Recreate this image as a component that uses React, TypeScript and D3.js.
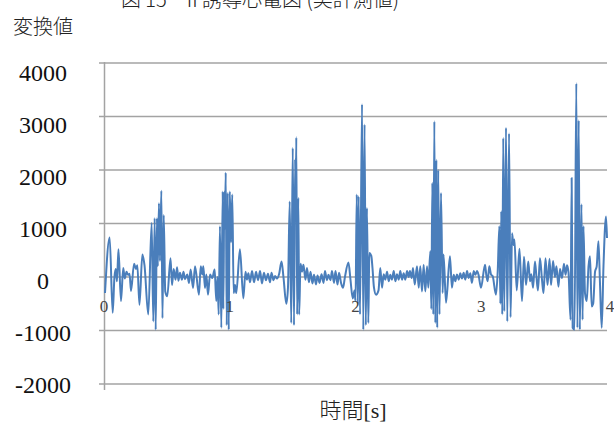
import React from "react";
import * as d3 from "d3";

const titleText = "図 15　II 誘導心電図 (実計測値)";
const yTitle = "変換値";
const xTitleMain = "時間";
const xTitleUnit = "[s]";
const yTicks = [4000, 3000, 2000, 1000, 0, -1000, -2000];
const xTicks = [0, 1, 2, 3, 4];

const times = [
  0.008, 0.045, 0.069, 0.083, 0.094, 0.103, 0.115, 0.135, 0.153, 0.165,
  0.179, 0.191, 0.203, 0.215, 0.239, 0.254, 0.265, 0.282, 0.305, 0.322,
  0.352, 0.379, 0.392, 0.403, 0.411, 0.421, 0.428, 0.437, 0.445, 0.456,
  0.465, 0.475, 0.487, 0.503, 0.529, 0.541, 0.554, 0.569, 0.581, 0.592,
  0.604, 0.620, 0.632, 0.644, 0.662, 0.676, 0.689, 0.708, 0.724, 0.755,
  0.769, 0.782, 0.790, 0.803, 0.814, 0.827, 0.843, 0.861, 0.880, 0.893,
  0.903, 0.912, 0.922, 0.933, 0.944, 0.949, 0.957, 0.962, 0.968, 0.976,
  0.984, 0.992, 1.000, 1.010, 1.020, 1.031, 1.042, 1.052, 1.081, 1.108,
  1.125, 1.137, 1.148, 1.161, 1.177, 1.193, 1.209, 1.225, 1.241, 1.256,
  1.272, 1.288, 1.304, 1.320, 1.332, 1.348, 1.360, 1.376, 1.392, 1.412,
  1.427, 1.450, 1.463, 1.477, 1.489, 1.501, 1.511, 1.520, 1.525, 1.529,
  1.536, 1.545, 1.552, 1.563, 1.575, 1.586, 1.602, 1.614, 1.630, 1.642,
  1.658, 1.670, 1.686, 1.698, 1.714, 1.730, 1.746, 1.757, 1.773, 1.785,
  1.801, 1.813, 1.829, 1.841, 1.857, 1.869, 1.885, 1.901, 1.916, 1.944,
  1.960, 1.978, 1.992, 2.000, 2.010, 2.018, 2.025, 2.036, 2.052, 2.062,
  2.072, 2.082, 2.091, 2.102, 2.110, 2.126, 2.135, 2.147, 2.163, 2.183,
  2.197, 2.211, 2.224, 2.237, 2.251, 2.264, 2.277, 2.290, 2.304, 2.317,
  2.330, 2.344, 2.356, 2.370, 2.383, 2.396, 2.410, 2.423, 2.433, 2.447,
  2.457, 2.471, 2.489, 2.503, 2.515, 2.529, 2.542, 2.555, 2.569, 2.579,
  2.595, 2.603, 2.611, 2.619, 2.627, 2.635, 2.643, 2.650, 2.658, 2.668,
  2.680, 2.693, 2.700, 2.720, 2.751, 2.767, 2.781, 2.794, 2.807, 2.821,
  2.833, 2.847, 2.860, 2.873, 2.887, 2.900, 2.913, 2.926, 2.940, 2.953,
  2.966, 2.978, 2.998, 3.030, 3.040, 3.051, 3.064, 3.078, 3.091, 3.117,
  3.131, 3.144, 3.152, 3.159, 3.167, 3.175, 3.183, 3.197, 3.207, 3.221,
  3.233, 3.245, 3.256, 3.264, 3.282, 3.304, 3.324, 3.340, 3.356, 3.374,
  3.388, 3.398, 3.412, 3.427, 3.439, 3.451, 3.467, 3.483, 3.495, 3.511,
  3.527, 3.543, 3.555, 3.571, 3.586, 3.598, 3.614, 3.626, 3.642, 3.658,
  3.670, 3.682, 3.694, 3.710, 3.719, 3.727, 3.742, 3.756, 3.765, 3.775,
  3.784, 3.797, 3.806, 3.813, 3.825, 3.839, 3.853, 3.865, 3.878, 3.890,
  3.905, 3.918, 3.932, 3.944, 3.958, 3.972, 3.992, 4.000,
];

const values = [
  -300, 740, -670, 0, 150, -80, 520, -450, 170, -30,
  100, 40, 60, -260, 250, 150, 220, -520, 420, 220,
  -700, 1010, -830, 1100, -985, 1100, 200, 1380, 300, 1610,
  -770, 1160, -270, -360, 350, -150, 150, -50, 180, -70,
  80, -50, 100, -40, 45, -110, 140, -205, 200, -330,
  200, 45, 200, -205, 45, -330, 45, -20, 140, -450,
  0, -700, 950, -950, 1600, -600, 1600, 900, 1950, -900,
  1570, -985, 1600, 650, 1540, -300, -150, -300, 520, -400,
  100, -50, 70, -100, 110, -100, 100, -60, 110, -120,
  80, -60, 60, -100, 80, -60, 20, -30, 50, 290,
  0, -500, -200, 1410, -860, 2410, -900, 2200, 1200, 2610,
  -700, 1480, -700, 250, 100, 230, -50, 170, -100, 100,
  -120, 40, -140, 30, -110, 50, -110, 110, -60, 40,
  -60, 110, -110, 110, -140, 80, -110, -200, 0, 270,
  -50, -400, -250, -450, 1540, -500, 1510, -700, 3230, -985,
  2850, -900, 1290, -860, 450, 390, 170, -200, -330, -250,
  170, -200, 50, -50, 100, -80, 40, -50, 110, -80,
  50, -50, 110, -50, 70, -50, 110, 0, 110, -20,
  170, -140, 200, -200, 200, -270, 230, -270, 200, -200,
  480, -600, 1760, -700, 2910, -860, 2190, -950, 2000, -700,
  1570, -300, 420, -480, 390, -200, 40, -80, 45, -50,
  70, -30, 80, -50, 110, -20, 70, -110, 110, 40,
  110, 45, -200, 230, 40, -80, 200, 45, 15, -330,
  110, 950, -500, 1230, -700, 2600, -640, 2790, -830, 2680,
  -750, 820, 600, 700, -250, 530, -450, 380, -150, 290,
  -80, 50, -200, 290, 0, -250, 350, -50, -300, 350,
  -150, 340, -150, 300, 0, 200, -180, 150, -20, 250,
  40, 220, 80, -800, 1850, -950, -985, 3620, -950, 2930,
  -985, 1360, -800, 950, -300, -450, 200, 390, -550, -500,
  100, 200, 670, -100, -950, 200, 1130, 730,
];

const W = 614;
const H = 423;
const plotLeft = 104;
const plotRight = 607;
const plotTop = 63;
const plotBottom = 384;

const serif = "'Liberation Serif', serif";
const cjk = "'Noto Sans CJK JP', sans-serif";

export default function App() {
  const x = d3.scaleLinear().domain([0, 4]).range([plotLeft, plotRight]);
  const y = d3.scaleLinear().domain([-2000, 4000]).range([plotBottom, plotTop]);
  const yLab = d3.scaleLinear().domain([-2000, 4000]).range([385, 72.5]);

  const pts: [number, number][] = times.map((t, i) => [t, values[i]]);
  const line = d3
    .line<[number, number]>()
    .x((d) => x(d[0]))
    .y((d) => y(d[1]))
    .curve(d3.curveMonotoneX);

  return (
    <svg
      width={W}
      height={H}
      viewBox={`0 0 ${W} ${H}`}
      style={{ position: "absolute", left: 0, top: 0, background: "#fff" }}
    >
      <rect x={0} y={0} width={W} height={H} fill="#fff" />
      <text x={260} y={7} style={{ fontFamily: cjk, fontSize: 20, fontWeight: 300 }} fill="#222" textAnchor="middle">
        {titleText}
      </text>
      <text x={13} y={34} style={{ fontFamily: cjk, fontSize: 20, fontWeight: 300 }} fill="#222">
        {yTitle}
      </text>

      {yTicks.map((v) => (
        <line
          key={"g" + v}
          x1={plotLeft - 5}
          x2={plotRight}
          y1={y(v)}
          y2={y(v)}
          stroke="#a3a3a3"
          strokeWidth={1.5}
        />
      ))}
      <line x1={plotLeft + 0.5} x2={plotLeft + 0.5} y1={plotTop - 1} y2={plotBottom + 6} stroke="#a3a3a3" strokeWidth={1.5} />

      {yTicks.map((v) => (
        <text
          key={"yl" + v}
          x={43}
          y={yLab(v)}
          dy="0.34em"
          textAnchor="middle"
          style={{ fontFamily: serif, fontSize: 24 }}
          fill="#111"
        >
          {v}
        </text>
      ))}

      <path d={line(pts) || ""} fill="none" stroke="#4a7ebb" strokeWidth={2} strokeLinejoin="round" />

      {xTicks.map((t) => (
        <text
          key={"xl" + t}
          x={x(t) + (t === 4 ? 3 : 0)}
          y={306}
          dy="0.34em"
          textAnchor="middle"
          style={{ fontFamily: serif, fontSize: 17 }}
          fill="#444"
        >
          {t}
        </text>
      ))}

      <text x={353} y={418} textAnchor="middle" style={{ fontSize: 22 }} fill="#222">
        <tspan style={{ fontFamily: cjk, fontWeight: 300 }}>{xTitleMain}</tspan>
        <tspan style={{ fontFamily: serif }}>{xTitleUnit}</tspan>
      </text>
    </svg>
  );
}
